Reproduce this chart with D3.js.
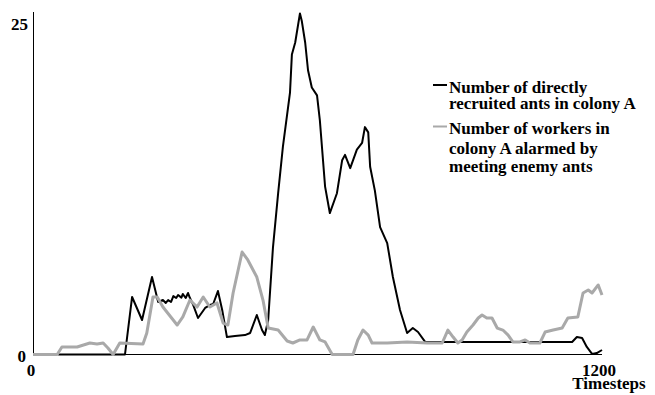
<!DOCTYPE html>
<html>
<head>
<meta charset="utf-8">
<script src="https://cdn.jsdelivr.net/npm/d3@7"></script>
<style>
  html, body { margin: 0; padding: 0; background: #fff; }
  svg text { font-family: "Liberation Serif", "Times New Roman", serif; font-weight: bold; fill: #000; }
</style>
</head>
<body>
<svg id="chart" width="655" height="395"></svg>
<script>
// ---- data ----
const xTickLabels = ["0", "1200"];
const yTickLabels = ["0", "25"];
const xTitle = "Timesteps";
const seriesNames = [
  ["Number of directly", "recruited ants in colony A"],
  ["Number of workers in", "colony A alarmed by", "meeting enemy ants"]
];
const recruitedT = [53,194,209,230,251,264,274,280,285,291,296,302,306,313,316,322,327,331,338,348,363,373,380,390,399,409,426,447,458,472,483,489,496,506,517,527,542,546,553,563,567,574,580,588,599,605,616,626,641,652,658,669,683,694,700,707,711,721,732,747,759,774,789,801,812,827,1137,1147,1158,1168,1179,1189,1200];
const recruitedV = [0,0,4.35,2.61,5.86,3.97,4.12,3.9,4.12,3.97,4.42,4.27,4.5,4.3,4.58,4.27,4.65,4.27,3.74,2.76,3.52,3.74,3.82,4.8,3.37,1.32,1.40,1.47,1.63,2.99,1.85,1.47,2.61,8.06,12.2,15.7,19.8,22.7,23.6,25.8,25.2,23.6,21.5,20.2,19.6,17.7,12.7,10.7,12.2,14.7,15.1,14.1,15.5,16.0,17.2,16.8,14.2,12.4,9.64,8.43,5.86,3.37,1.63,2.0,1.70,0.95,0.95,1.32,1.25,0.57,0.04,0.11,0.34];
const alarmedT = [0,51,61,93,120,135,148,158,169,183,232,240,253,262,274,304,316,331,346,359,373,388,401,411,422,441,453,472,485,496,517,536,548,563,578,591,605,616,631,675,685,696,707,715,747,789,831,863,875,886,896,905,915,928,939,947,957,968,979,991,1002,1012,1027,1038,1048,1069,1080,1097,1116,1128,1149,1160,1171,1179,1192,1200];
const alarmedV = [0,0,0.57,0.57,0.87,0.79,0.87,0.49,0,0.87,0.79,1.63,4.35,4.35,3.59,2.23,2.84,4.12,3.59,4.35,3.59,3.90,2.38,2.23,4.65,7.75,7.15,5.86,4.12,2.0,1.85,1.02,0.87,1.10,1.10,2.08,1.10,0.95,0,0,1.10,1.85,1.47,0.87,0.87,0.95,0.87,0.87,1.85,1.32,0.87,1.10,1.70,2.23,2.76,2.99,2.76,2.76,2.0,1.85,1.47,0.95,0.95,1.10,0.87,0.87,1.70,1.85,2.0,2.76,2.84,4.65,4.88,4.65,5.26,4.5];

// ---- layout ----
const svg = d3.select("#chart");
const x = d3.scaleLinear().domain([0, 1200]).range([33, 602]);
const y = d3.scaleLinear().domain([0, 25]).range([354.5, 24]);

// axes lines
svg.append("line").attr("x1", 33.5).attr("x2", 33.5).attr("y1", 12).attr("y2", 355)
  .attr("stroke", "#000").attr("stroke-width", 1);
svg.append("line").attr("x1", 33).attr("x2", x(1200)).attr("y1", 354.5).attr("y2", 354.5)
  .attr("stroke", "#000").attr("stroke-width", 1);

// y tick labels
svg.append("text").attr("x", 28).attr("y", y(25) + 6).attr("text-anchor", "end")
  .style("font-size", "17px").text(yTickLabels[1]);
svg.append("text").attr("x", 26).attr("y", y(0) + 7).attr("text-anchor", "end")
  .style("font-size", "17px").text(yTickLabels[0]);
// x tick labels
svg.append("text").attr("x", x(0) - 2).attr("y", 376).attr("text-anchor", "middle")
  .style("font-size", "17px").text(xTickLabels[0]);
svg.append("text").attr("x", x(1200) - 3).attr("y", 376).attr("text-anchor", "middle")
  .style("font-size", "17px").text(xTickLabels[1]);
svg.append("text").attr("x", x(1200) + 7).attr("y", 389).attr("text-anchor", "middle")
  .style("font-size", "17px").text(xTitle);

// lines
const line = d3.line().x(d => x(d[0])).y(d => y(d[1]));
const recruited = recruitedT.map((t, i) => [t, recruitedV[i]]);
const alarmed = alarmedT.map((t, i) => [t, alarmedV[i]]);

svg.append("path").datum(recruited).attr("d", line)
  .attr("fill", "none").attr("stroke", "#000").attr("stroke-width", 2).attr("stroke-linejoin", "round");
svg.append("path").datum(alarmed).attr("d", line)
  .attr("fill", "none").attr("stroke", "#a9a9a9").attr("stroke-width", 3).attr("stroke-linejoin", "round");

// legend
const legendBase = [[93.3, 109.3], [134.3, 154.3, 172.3]];
const legendDashY = [85, 126.5];
const legendColors = ["#000", "#a9a9a9"];
seriesNames.forEach((lines, i) => {
  svg.append("line").attr("x1", 433).attr("x2", 447).attr("y1", legendDashY[i]).attr("y2", legendDashY[i])
    .attr("stroke", legendColors[i]).attr("stroke-width", 2);
  lines.forEach((s, j) => {
    svg.append("text").attr("x", 449).attr("y", legendBase[i][j])
      .style("font-size", "17px").text(s);
  });
});
</script>
</body>
</html>
